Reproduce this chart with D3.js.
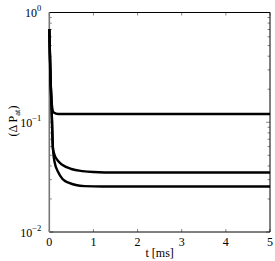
<!DOCTYPE html>
<html>
<head>
<meta charset="utf-8">
<script src="https://cdn.jsdelivr.net/npm/d3@7"></script>
<style>
  body { margin: 0; background: #fff; }
</style>
</head>
<body>
<div id="chart"></div>
<script>
var svgWidth = 275;
var svgHeight = 261;

var margin = { top: 12.5, right: 5, bottom: 29, left: 49.3 };
var chartWidth = svgWidth - margin.left - margin.right;
var chartHeight = svgHeight - margin.top - margin.bottom;

// time [ms] and (Delta P_at)
var tTop = [0, 0.02, 0.05, 0.08, 0.1, 0.2, 1, 5];
var pTop = [0.707, 0.299, 0.160, 0.1266, 0.1227, 0.1189, 0.1189, 0.1189];

var tMid = [0, 0.03, 0.06, 0.08, 0.12, 0.2, 0.3, 0.5, 0.75, 1, 1.5, 5];
var pMid = [0.707, 0.243, 0.1048, 0.0583, 0.0503, 0.0443, 0.0408, 0.0375, 0.0359, 0.0352, 0.0348, 0.0348];

var tLow = [0, 0.03, 0.06, 0.085, 0.12, 0.2, 0.3, 0.45, 0.6, 0.8, 1.2, 5];
var pLow = [0.707, 0.243, 0.1048, 0.0559, 0.0434, 0.0352, 0.0304, 0.0280, 0.0268, 0.0262, 0.0260, 0.0260];

var xTicks = [0, 1, 2, 3, 4, 5];
var yExps = [0, -1, -2];

var serif = "Liberation Serif";

var svg = d3.select("#chart")
  .append("svg")
  .attr("width", svgWidth)
  .attr("height", svgHeight)
  .attr("font-family", serif);

var chartGroup = svg.append("g")
  .attr("transform", `translate(${margin.left}, ${margin.top})`);

var x = d3.scaleLinear().domain([0, 5]).range([0, chartWidth]);
var y = d3.scaleLog().domain([0.01, 1]).range([chartHeight, 0]);

// minor ticks on log axis
var minor = [];
[0.01, 0.1].forEach(function(b) {
  for (var k = 2; k <= 9; k++) minor.push(b * k);
});

var tickColor = "#888";
minor.forEach(function(v) {
  chartGroup.append("line")
    .attr("x1", 0).attr("x2", 2.5)
    .attr("y1", y(v)).attr("y2", y(v))
    .attr("stroke", tickColor).attr("stroke-width", 1);
  chartGroup.append("line")
    .attr("x1", chartWidth).attr("x2", chartWidth - 2.5)
    .attr("y1", y(v)).attr("y2", y(v))
    .attr("stroke", tickColor).attr("stroke-width", 1);
});
yExps.forEach(function(e) {
  var v = Math.pow(10, e);
  chartGroup.append("line")
    .attr("x1", 0).attr("x2", 4)
    .attr("y1", y(v)).attr("y2", y(v))
    .attr("stroke", tickColor);
  chartGroup.append("line")
    .attr("x1", chartWidth).attr("x2", chartWidth - 4)
    .attr("y1", y(v)).attr("y2", y(v))
    .attr("stroke", tickColor);
  var lbl = chartGroup.append("text")
    .attr("x", -8)
    .attr("y", y(v) + 4.5)
    .attr("text-anchor", "end")
    .style("font-size", "12px");
  lbl.append("tspan").text("10");
  lbl.append("tspan")
    .attr("dy", -6)
    .style("font-size", "8.5px")
    .text(e === 0 ? "0" : "\u2212" + (-e));
});

xTicks.forEach(function(t) {
  chartGroup.append("line")
    .attr("x1", x(t)).attr("x2", x(t))
    .attr("y1", chartHeight).attr("y2", chartHeight - 3)
    .attr("stroke", tickColor);
  chartGroup.append("line")
    .attr("x1", x(t)).attr("x2", x(t))
    .attr("y1", 0).attr("y2", 3)
    .attr("stroke", tickColor);
  chartGroup.append("text")
    .attr("x", x(t))
    .attr("y", chartHeight + 14)
    .attr("text-anchor", "middle")
    .style("font-size", "12px")
    .text(t);
});

// box
chartGroup.append("line").attr("x1", 0).attr("x2", chartWidth).attr("y1", 0).attr("y2", 0)
  .attr("stroke", "#000");
chartGroup.append("line").attr("x1", 0).attr("x2", chartWidth).attr("y1", chartHeight).attr("y2", chartHeight)
  .attr("stroke", "#000");
chartGroup.append("line").attr("x1", chartWidth).attr("x2", chartWidth).attr("y1", 0).attr("y2", chartHeight)
  .attr("stroke", "#000");
chartGroup.append("line").attr("x1", 0).attr("x2", 0).attr("y1", 0).attr("y2", chartHeight)
  .attr("stroke", "#777").attr("stroke-width", 1.6);

// curves
var line = d3.line()
  .x(d => x(d[0]))
  .y(d => y(d[1]))
  .curve(d3.curveMonotoneX);

[[tTop, pTop], [tMid, pMid], [tLow, pLow]].forEach(function(s) {
  var pts = s[0].map((t, i) => [t, s[1][i]]);
  chartGroup.append("path")
    .datum(pts)
    .attr("d", line)
    .attr("fill", "none")
    .attr("stroke", "#000")
    .attr("stroke-width", 2.4);
});

// axis labels
chartGroup.append("text")
  .attr("x", chartWidth / 2)
  .attr("y", chartHeight + 25)
  .attr("text-anchor", "middle")
  .style("font-size", "12px")
  .text("t [ms]");

var yl = svg.append("text")
  .attr("transform", "translate(17, 121) rotate(-90)")
  .attr("text-anchor", "middle")
  .style("font-size", "12px");
yl.append("tspan").text("(\u0394 P");
yl.append("tspan").attr("dy", 3).style("font-size", "8.5px").text("at");
yl.append("tspan").attr("dy", -3).text(")");
</script>
</body>
</html>
